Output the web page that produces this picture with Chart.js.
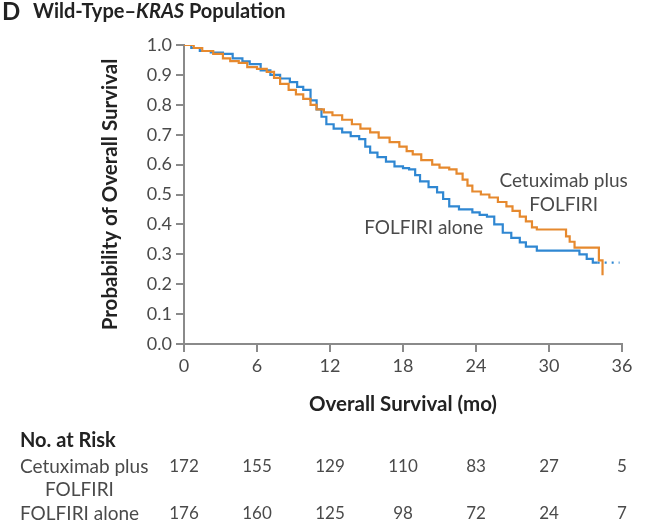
<!DOCTYPE html>
<html>
<head>
<meta charset="utf-8">
<script src="https://cdn.jsdelivr.net/npm/chart.js@4/dist/chart.umd.min.js"></script>
<style>
  html, body { margin: 0; padding: 0; background: #fff; }
  #wrap { width: 647px; height: 531px; position: relative; }
</style>
</head>
<body>
<div id="wrap"><canvas id="km" width="647" height="531"></canvas></div>
<script>
// Kaplan-Meier estimates (months, probability)
const cetuxMonths = [0, 0.8, 1.5, 2.4, 3.2, 3.8, 4.5, 5.2, 6.0, 6.8, 7.4, 7.9, 8.6, 9.2, 9.8, 10.4, 10.9, 11.5,
  12.2, 13.0, 13.8, 14.5, 15.3, 16.0, 16.9, 17.7, 18.3, 18.8, 19.5, 20.4, 21.0, 21.8, 22.4, 22.9, 23.3, 23.7,
  24.4, 25.1, 25.8, 26.5, 27.0, 27.6, 28.1, 28.6, 29.0, 31.4, 31.7, 32.1, 34.1, 34.4];
const cetuxSurv = [1.0, 0.99, 0.98, 0.97, 0.955, 0.946, 0.94, 0.926, 0.92, 0.91, 0.89, 0.87, 0.85, 0.835, 0.82, 0.80, 0.785, 0.775,
  0.765, 0.75, 0.735, 0.72, 0.708, 0.69, 0.675, 0.66, 0.645, 0.634, 0.615, 0.60, 0.59, 0.584, 0.57, 0.55, 0.53, 0.51,
  0.50, 0.49, 0.475, 0.46, 0.445, 0.426, 0.41, 0.39, 0.383, 0.36, 0.342, 0.322, 0.28, 0.23];

const folfMonths = [0, 0.6, 1.3, 2.2, 3.2, 4.0, 4.8, 5.4, 6.3, 7.1, 7.9, 8.7, 9.3, 9.8, 10.4, 10.9, 11.3, 11.7,
  12.3, 13.0, 13.7, 14.4, 14.9, 15.3, 15.9, 16.6, 17.3, 18.0, 18.5, 19.0, 19.4, 20.1, 20.8, 21.3, 21.8, 22.6,
  23.7, 24.3, 24.9, 25.5, 26.2, 26.9, 27.6, 28.1, 29.0, 32.5, 33.1, 33.6, 34.0];
const folfSurv = [1.0, 0.99, 0.98, 0.975, 0.97, 0.955, 0.945, 0.936, 0.915, 0.90, 0.888, 0.876, 0.86, 0.85, 0.815, 0.785, 0.76, 0.735,
  0.72, 0.708, 0.695, 0.685, 0.66, 0.64, 0.625, 0.61, 0.594, 0.588, 0.584, 0.565, 0.544, 0.525, 0.507, 0.485, 0.46, 0.45,
  0.44, 0.432, 0.426, 0.40, 0.372, 0.355, 0.34, 0.326, 0.312, 0.30, 0.285, 0.272, 0.272];
// dotted tail of the FOLFIRI-alone curve
const folfTailMonths = [34.0, 35.8];
const folfTailSurv = [0.272, 0.272];

const xTicks = [0, 6, 12, 18, 24, 30, 36];
const yTicks = [0, 0.1, 0.2, 0.3, 0.4, 0.5, 0.6, 0.7, 0.8, 0.9, 1.0];

// number at risk
const riskMonths = [0, 6, 12, 18, 24, 30, 36];
const riskCetux = [172, 155, 129, 110, 83, 27, 5];
const riskFolf = [176, 160, 125, 98, 72, 24, 7];

const ORANGE = '#E6892E';
const BLUE = '#2F87D2';
const AXIS = '#8a8a8a';
const TEXT = '#4a4a4a';
const FONT = 'Lato, "Open Sans", sans-serif';

const pts = (xs, ys) => xs.map((x, i) => ({ x: x, y: ys[i] }));

const extras = {
  id: 'extras',
  afterDraw(chart) {
    const ctx = chart.ctx;
    const xs = chart.scales.x, ys = chart.scales.y;
    ctx.save();
    ctx.textBaseline = 'middle';

    // panel title
    ctx.fillStyle = '#222';
    ctx.textAlign = 'left';
    ctx.font = 'bold 24px ' + FONT;
    ctx.fillText('D', 2, 12);
    let x = 33;
    const parts = [['Wild-Type–', 'bold'], ['KRAS', 'italic bold'], [' Population', 'bold']];
    parts.forEach(p => {
      ctx.font = p[1] + ' 20px ' + FONT;
      ctx.fillText(p[0], x, 12);
      x += ctx.measureText(p[0]).width;
    });

    // curve labels
    ctx.fillStyle = TEXT;
    ctx.font = '19px ' + FONT;
    ctx.textAlign = 'center';
    ctx.fillText('Cetuximab plus', xs.getPixelForValue(31.2), ys.getPixelForValue(0.544));
    ctx.fillText('FOLFIRI', xs.getPixelForValue(31.2), ys.getPixelForValue(0.466));
    ctx.fillText('FOLFIRI alone', xs.getPixelForValue(19.7), ys.getPixelForValue(0.389));

    // number at risk table
    ctx.textAlign = 'left';
    ctx.fillStyle = '#222';
    ctx.font = 'bold 20px ' + FONT;
    ctx.fillText('No. at Risk', 20, 441);
    ctx.fillStyle = TEXT;
    ctx.font = '19px ' + FONT;
    ctx.fillText('Cetuximab plus', 20, 467);
    ctx.fillText('FOLFIRI', 45, 490);
    ctx.fillText('FOLFIRI alone', 20, 514);
    ctx.textAlign = 'center';
    ctx.font = '17px ' + FONT;
    riskMonths.forEach((m, i) => {
      const px = xs.getPixelForValue(m);
      ctx.fillText(String(riskCetux[i]), px, 467);
      ctx.fillText(String(riskFolf[i]), px, 514);
    });
    ctx.restore();
  }
};

new Chart(document.getElementById('km'), {
  type: 'line',
  data: {
    datasets: [
      {
        label: 'Cetuximab plus FOLFIRI',
        data: pts(cetuxMonths, cetuxSurv),
        borderColor: ORANGE,
        borderWidth: 2.2,
        stepped: true,
        pointRadius: 0,
      },
      {
        label: 'FOLFIRI alone',
        data: pts(folfMonths, folfSurv),
        borderColor: BLUE,
        borderWidth: 2.2,
        stepped: true,
        pointRadius: 0,
      },
      {
        label: 'FOLFIRI alone (censored tail)',
        data: pts(folfTailMonths, folfTailSurv),
        borderColor: BLUE,
        borderWidth: 2.2,
        borderDash: [2, 5],
        pointRadius: 0,
      },
    ],
  },
  options: {
    responsive: false,
    animation: false,
    layout: { padding: { top: 45, right: 25, bottom: 112, left: 0 } },
    plugins: { legend: { display: false }, tooltip: { enabled: false } },
    scales: {
      x: {
        type: 'linear',
        min: 0,
        max: 36,
        afterBuildTicks: (s) => { s.ticks = xTicks.map(v => ({ value: v })); },
        afterFit: (s) => { s.height = 75; },
        border: { color: AXIS, width: 2 },
        grid: { drawOnChartArea: false, drawTicks: true, tickLength: 8, color: AXIS, lineWidth: 2 },
        ticks: { color: TEXT, font: { family: FONT, size: 18 }, padding: 3, maxRotation: 0 },
        title: {
          display: true,
          text: 'Overall Survival (mo)',
          color: '#222',
          font: { family: FONT, size: 20.5, weight: 'bold' },
          padding: { top: 0, bottom: 2 },
        },
      },
      y: {
        min: 0,
        max: 1.0,
        afterBuildTicks: (s) => { s.ticks = yTicks.map(v => ({ value: v })); },
        afterFit: (s) => { s.width = 184; },
        border: { color: AXIS, width: 2 },
        grid: { drawOnChartArea: false, drawTicks: true, tickLength: 8, color: AXIS, lineWidth: 2 },
        ticks: {
          color: TEXT,
          font: { family: FONT, size: 18 },
          padding: 4,
          callback: (v) => v.toFixed(1),
        },
        title: {
          display: true,
          text: 'Probability of Overall Survival',
          color: '#222',
          font: { family: FONT, size: 20.5, weight: 'bold' },
          padding: { top: 98, bottom: 0 },
        },
      },
    },
  },
  plugins: [extras],
});
</script>
</body>
</html>
